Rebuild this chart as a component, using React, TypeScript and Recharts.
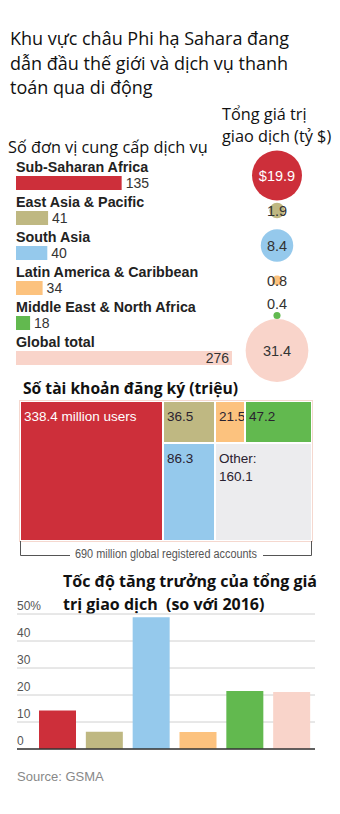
import React from 'react';
import {
  BarChart, Bar, XAxis, YAxis, Cell, ScatterChart, Scatter, ZAxis, Treemap,
  CartesianGrid, ReferenceLine,
} from 'recharts';

// ---------- data ----------
const regions = [
  'Sub-Saharan Africa',
  'East Asia & Pacific',
  'South Asia',
  'Latin America & Caribbean',
  'Middle East & North Africa',
  'Global total',
];
const providers = [135, 41, 40, 34, 18, 276];
const transactionValue = [19.9, 1.9, 8.4, 0.8, 0.4, 31.4];

const accountNames = [
  'Sub-Saharan Africa',
  'East Asia & Pacific',
  'South Asia',
  'Latin America & Caribbean',
  'Middle East & North Africa',
  'Other',
];
const accounts = [338.4, 36.5, 86.3, 21.5, 47.2, 160.1];

const growth = [14.3, 6.4, 48.8, 6.3, 21.5, 21.1];
const growthTicks = [0, 10, 20, 30, 40, 50];

// ---------- styles ----------
const COLORS = ['#cd2f3a', '#bfb882', '#95c9ec', '#fcc27e', '#62b94f', '#f9d4ca'];
const OTHER_COLOR = '#ececee';
const BUBBLE_LABEL_COLORS = ['#ffffff', '#333333', '#333333', '#333333', '#333333', '#333333'];
const WSJ_FONT = '"Liberation Sans", Arial, sans-serif';
const TITLE_FONT = '"Open Sans", "Noto Sans", sans-serif';

const providerData = regions.map((name, i) => ({ name, value: providers[i] }));
const bubbleData = transactionValue.map((v, i) => ({
  x: 1,
  y: i,
  z: v,
  label: i === 0 ? `$${v}` : `${v}`,
}));
const growthData = regions.map((name, i) => ({ name, value: growth[i] }));

const leaf = (i: number) => ({ name: accountNames[i], size: accounts[i] });
const treeData = [
  leaf(0),
  { name: 'g-asia', children: [leaf(1), leaf(2)] },
  {
    name: 'g-rest',
    children: [{ name: 'g-small', children: [leaf(3), leaf(4)] }, leaf(5)],
  },
];

// ---------- custom renderers ----------
const ProviderBar = (p: any) => {
  const { x, y, width, height, index } = p;
  const isTotal = index === regions.length - 1;
  return (
    <g>
      <rect x={x} y={y} width={width} height={height} fill={COLORS[index]} />
      <text
        x={x}
        y={y - 4}
        fontFamily={WSJ_FONT}
        fontWeight={700}
        fontSize={14.3}
        fill="#222"
      >
        {regions[index]}
      </text>
      <text
        x={isTotal ? x + width - 3 : x + width + 4}
        y={y + height / 2}
        dominantBaseline="central"
        textAnchor={isTotal ? 'end' : 'start'}
        fontFamily={WSJ_FONT}
        fontSize={14}
        fill="#333"
      >
        {providers[index]}
      </text>
    </g>
  );
};

const Bubble = (p: any) => {
  const { cx, cy, payload } = p;
  const r = p.width ? p.width / 2 : Math.sqrt((p.size || 0) / Math.PI);
  const i = payload.y;
  const small = r < 4;
  return (
    <g>
      <circle cx={cx} cy={cy} r={r} fill={COLORS[i]} />
      <text
        x={cx}
        y={small ? cy - 12 : cy}
        textAnchor="middle"
        dominantBaseline="central"
        fontFamily={WSJ_FONT}
        fontSize={14.5}
        fill={BUBBLE_LABEL_COLORS[i]}
      >
        {payload.label}
      </text>
    </g>
  );
};

const TreeCell = (p: any) => {
  const { x, y, width, height, name } = p;
  const i = accountNames.indexOf(name);
  if (i < 0 || p.depth === 0) return <g />;
  const fill = i === accountNames.length - 1 ? OTHER_COLOR : COLORS[i];
  const textColor = i === 0 ? '#ffffff' : '#2a2230';
  const isOther = i === accountNames.length - 1;
  return (
    <g>
      <rect x={x} y={y} width={width} height={height} fill={fill} stroke="#ffffff" strokeWidth={2} />
      <text
        x={x + 4}
        y={y + 15}
        dominantBaseline="central"
        fontFamily={WSJ_FONT}
        fontSize={13.5}
        fill={textColor}
      >
        {i === 0 ? `${accounts[i]} million users` : isOther ? 'Other:' : `${accounts[i]}`}
      </text>
      {isOther && (
        <text
          x={x + 4}
          y={y + 33}
          dominantBaseline="central"
          fontFamily={WSJ_FONT}
          fontSize={13.5}
          fill={textColor}
        >
          {`${accounts[i]}`}
        </text>
      )}
    </g>
  );
};

const GrowthTick = (p: any) => {
  const v = p.payload.value;
  return (
    <text
      x={17}
      y={p.y - 8}
      dominantBaseline="central"
      fontFamily={WSJ_FONT}
      fontSize={12}
      fill="#555"
    >
      {v === 50 ? '50%' : `${v}`}
    </text>
  );
};

export default function App() {
  return (
    <div
      style={{
        position: 'absolute',
        left: 0,
        top: 0,
        width: 340,
        height: 814,
        background: '#fff',
        overflow: 'hidden',
        fontFamily: TITLE_FONT,
        color: '#111',
      }}
    >
      {/* Main title */}
      <div style={{ position: 'absolute', left: 10, top: 26, fontSize: 18, lineHeight: '24.5px', whiteSpace: 'nowrap' }}>
        Khu vực châu Phi hạ Sahara đang
        <br />
        dẫn đầu thế giới và dịch vụ thanh
        <br />
        toán qua di động
      </div>

      <div style={{ position: 'absolute', left: 222, top: 103, fontSize: 16.3, lineHeight: '22px', whiteSpace: 'nowrap' }}>
        Tổng giá trị
        <br />
        giao dịch (tỷ $)
      </div>

      <div style={{ position: 'absolute', left: 8, top: 136, fontSize: 16.3, lineHeight: '22px', whiteSpace: 'nowrap' }}>
        Số đơn vị cung cấp dịch vụ
      </div>

      {/* Providers horizontal bars */}
      <div style={{ position: 'absolute', left: 16, top: 144.5 }}>
        <BarChart
          width={250}
          height={230}
          layout="vertical"
          data={providerData}
          margin={{ top: 20, right: 34, bottom: 0, left: 0 }}
        >
          <XAxis type="number" dataKey="value" domain={[0, 276]} hide />
          <YAxis type="category" dataKey="name" hide />
          <Bar dataKey="value" barSize={14} isAnimationActive={false} shape={<ProviderBar />} />
        </BarChart>
      </div>

      {/* Transaction value bubbles */}
      <div style={{ position: 'absolute', left: 240, top: 128 }}>
        <ScatterChart width={74} height={270} margin={{ top: 30, right: 0, bottom: 30, left: 0 }}>
          <XAxis type="number" dataKey="x" domain={[0, 2]} hide />
          <YAxis type="number" dataKey="y" domain={[-0.5, 5.5]} reversed hide />
          <ZAxis type="number" dataKey="z" domain={[0, 40]} range={[0, 3941]} />
          <Scatter data={bubbleData} isAnimationActive={false} shape={<Bubble />} />
        </ScatterChart>
      </div>

      {/* Treemap title */}
      <svg style={{ position: 'absolute', left: 0, top: 375 }} width={340} height={26}>
        <text
          x={23}
          y={19}
          fontFamily={TITLE_FONT}
          fontWeight={700}
          fontSize={16.5}
          fill="#111"
          textLength={215}
          lengthAdjust="spacingAndGlyphs"
        >
          Số tài khoản đăng ký (triệu)
        </text>
      </svg>

      {/* treemap outline */}
      <div style={{ position: 'absolute', left: 19, top: 400, width: 292, height: 140, border: '1px solid #f5d8cf' }} />
      <div style={{ position: 'absolute', left: 20, top: 401 }}>
        <Treemap
          width={292}
          height={140}
          data={treeData}
          dataKey="size"
          aspectRatio={1}
          isAnimationActive={false}
          content={<TreeCell />}
        />
      </div>

      {/* bracket */}
      <svg style={{ position: 'absolute', left: 0, top: 535 }} width={340} height={30}>
        <path d="M20.5,6 V20.5 H70" fill="none" stroke="#555" strokeWidth={1} />
        <path d="M263,20.5 H311.5 V6" fill="none" stroke="#555" strokeWidth={1} />
        <text
          x={166}
          y={19}
          textAnchor="middle"
          dominantBaseline="central"
          fontFamily={WSJ_FONT}
          fontSize={12.5}
          fill="#555"
          textLength={182}
          lengthAdjust="spacingAndGlyphs"
        >
          690 million global registered accounts
        </text>
      </svg>

      {/* Growth title */}
      <div style={{ position: 'absolute', left: 63, top: 569.5, fontSize: 16, lineHeight: '23px', fontWeight: 700, whiteSpace: 'pre' }}>
        {'Tốc độ tăng trưởng của tổng giá\ntrị giao dịch  (so với 2016)'}
      </div>

      {/* Growth bar chart */}
      <div style={{ position: 'absolute', left: 0, top: 600 }}>
        <BarChart
          width={330}
          height={160}
          data={growthData}
          margin={{ top: 14, right: 15, bottom: 11, left: 17 }}
        >
          <CartesianGrid vertical={false} stroke="#d0d0d0" />
          <XAxis dataKey="name" hide padding={{ left: 17, right: 0 }} />
          <YAxis
            mirror
            width={40}
            domain={[0, 50]}
            ticks={growthTicks}
            interval={0}
            axisLine={false}
            tickLine={false}
            tick={<GrowthTick />}
          />
          <Bar dataKey="value" barSize={37} isAnimationActive={false}>
            {growthData.map((d, i) => (
              <Cell key={d.name} fill={COLORS[i]} />
            ))}
          </Bar>
          <ReferenceLine y={0} stroke="#333" strokeWidth={1.5} />
        </BarChart>
      </div>

      <div style={{ position: 'absolute', left: 17, top: 768, fontSize: 13, lineHeight: '18px', color: '#888', fontFamily: WSJ_FONT }}>
        Source: GSMA
      </div>
    </div>
  );
}
